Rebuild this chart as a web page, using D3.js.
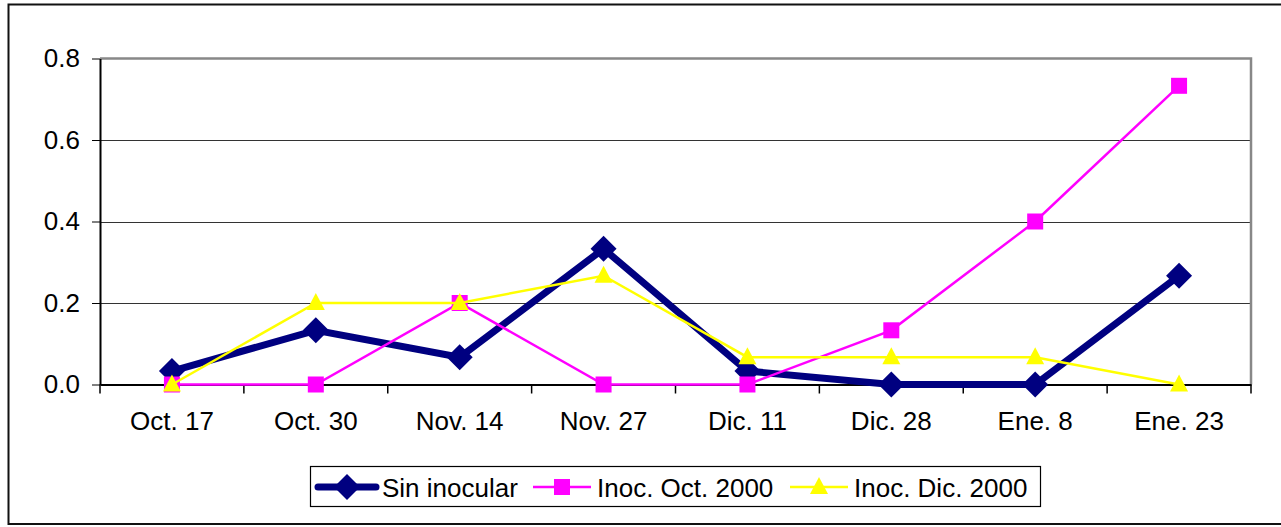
<!DOCTYPE html>
<html>
<head>
<meta charset="utf-8">
<script src="https://cdn.jsdelivr.net/npm/d3@7"></script>
<style>
  body { margin: 0; background: #fff; }
  text { font-family: "Liberation Sans", Arial, sans-serif; }
</style>
</head>
<body>
<div id="chart-area"></div>
<script>
var categories = ["Oct. 17", "Oct. 30", "Nov. 14", "Nov. 27", "Dic. 11", "Dic. 28", "Ene. 8", "Ene. 23"];
var sinInocular = [0.033, 0.133, 0.067, 0.333, 0.033, 0, 0, 0.267];
var inocOct = [0, 0, 0.2, 0, 0, 0.133, 0.4, 0.733];
var inocDic = [0, 0.2, 0.2, 0.267, 0.067, 0.067, 0.067, 0];
var yTicks = [0, 0.2, 0.4, 0.6, 0.8];

var series = [
    {name: "Sin inocular", values: sinInocular, color: "#000080", width: 7, marker: "diamond"},
    {name: "Inoc. Oct. 2000", values: inocOct, color: "#FF00FF", width: 2.5, marker: "square"},
    {name: "Inoc. Dic. 2000", values: inocDic, color: "#FFFF00", width: 2.5, marker: "triangle"}
];

var W = 1281, H = 527;
var plotL = 100, plotT = 58.5, plotR = 1251, plotB = 384.5;

var svg = d3.select("#chart-area").append("svg")
    .attr("width", W)
    .attr("height", H);

// outer frame
svg.append("rect")
    .attr("x", 8.5).attr("y", 4.5)
    .attr("width", 1290).attr("height", 519.5)
    .attr("fill", "none").attr("stroke", "#111").attr("stroke-width", 2);

var x = d3.scaleBand().domain(categories).range([plotL, plotR]);
var y = d3.scaleLinear().domain([0, 0.8]).range([plotB, plotT]);

// gridlines
svg.selectAll(".grid").data(yTicks.filter(d => d > 0 && d < 0.8))
    .enter().append("line")
    .attr("x1", plotL).attr("x2", plotR)
    .attr("y1", d => Math.round(y(d)) + 0.5).attr("y2", d => Math.round(y(d)) + 0.5)
    .attr("stroke", "#333").attr("stroke-width", 1);

// plot border top/right (gray)
svg.append("path")
    .attr("d", "M" + plotL + "," + plotT + "H" + plotR + "V" + plotB)
    .attr("fill", "none").attr("stroke", "#888").attr("stroke-width", 2.5);

// y axis
var yAxis = svg.append("g")
    .attr("transform", "translate(" + plotL + ",0)")
    .call(d3.axisLeft(y).tickValues(yTicks).tickFormat(d3.format(".1f")).tickSize(8).tickSizeOuter(0).tickPadding(12));
yAxis.select(".domain").attr("stroke", "#000").attr("stroke-width", 2);
yAxis.selectAll("text").attr("font-size", 26).attr("fill", "#000");

// x axis
var xAxis = svg.append("g")
    .attr("transform", "translate(0," + plotB + ")")
    .call(d3.axisBottom(x).tickSize(0).tickSizeOuter(0).tickPadding(27));
xAxis.select(".domain").attr("stroke", "#000").attr("stroke-width", 2);
xAxis.selectAll("text").attr("font-size", 26).attr("fill", "#000");
xAxis.selectAll(".sep").data(d3.range(categories.length + 1))
    .enter().append("line")
    .attr("x1", i => plotL + i * x.bandwidth()).attr("x2", i => plotL + i * x.bandwidth())
    .attr("y1", 0).attr("y2", 9)
    .attr("stroke", "#000").attr("stroke-width", 1.5);

var line = d3.line()
    .x((d, i) => x(categories[i]) + x.bandwidth() / 2)
    .y(d => y(d));

function drawMarker(g, type, color, cx, cy) {
    if (type === "diamond") {
        g.append("path").attr("d", "M" + cx + "," + (cy - 13) + "L" + (cx + 13) + "," + cy + "L" + cx + "," + (cy + 13) + "L" + (cx - 13) + "," + cy + "Z")
            .attr("fill", color);
    } else if (type === "square") {
        g.append("rect").attr("x", cx - 8).attr("y", cy - 8).attr("width", 16).attr("height", 16)
            .attr("fill", color);
    } else {
        g.append("path").attr("d", "M" + cx + "," + (cy - 10) + "L" + (cx + 9) + "," + (cy + 7) + "L" + (cx - 9) + "," + (cy + 7) + "Z")
            .attr("fill", color);
    }
}

series.forEach(s => {
    var g = svg.append("g");
    g.append("path").datum(s.values)
        .attr("d", line)
        .attr("fill", "none")
        .attr("stroke", s.color)
        .attr("stroke-width", s.width)
        .attr("stroke-linejoin", "miter");
    s.values.forEach((v, i) => {
        drawMarker(g, s.marker, s.color, x(categories[i]) + x.bandwidth() / 2, y(v));
    });
});

// legend
var legend = svg.append("g");
legend.append("rect")
    .attr("x", 310.5).attr("y", 466.5).attr("width", 730).attr("height", 40)
    .attr("fill", "#fff").attr("stroke", "#000").attr("stroke-width", 1.2);
var legendX = [318, 533, 790];
series.forEach((s, i) => {
    var lx = legendX[i], ly = 487;
    legend.append("line")
        .attr("x1", lx).attr("x2", lx + 58)
        .attr("y1", ly).attr("y2", ly)
        .attr("stroke", s.color).attr("stroke-width", s.width)
        .attr("stroke-linecap", i === 0 ? "round" : "butt");
    drawMarker(legend, s.marker, s.color, lx + 29, ly);
    legend.append("text")
        .attr("x", lx + 64).attr("y", ly + 9.5)
        .attr("font-size", 26)
        .text(s.name);
});
</script>
</body>
</html>
